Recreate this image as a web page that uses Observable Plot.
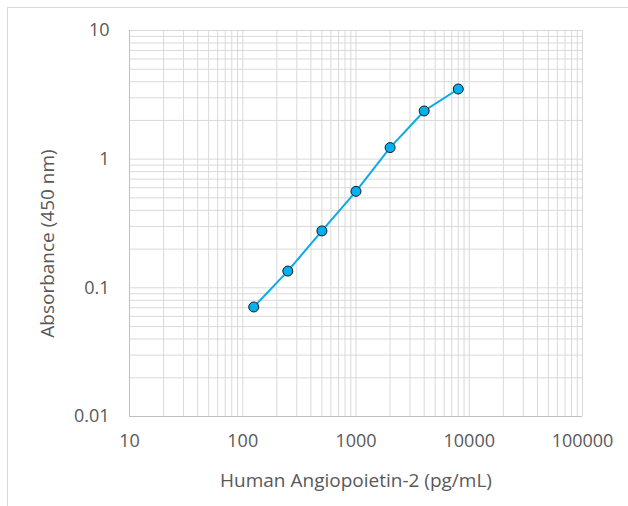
<!DOCTYPE html>
<html>
<head>
<meta charset="utf-8">
<script src="https://cdn.jsdelivr.net/npm/d3@7"></script>
<script src="https://cdn.jsdelivr.net/npm/@observablehq/plot@0.6"></script>
<style>
  html, body { margin: 0; padding: 0; background: #fff; }
  #wrap { position: relative; width: 628px; height: 506px; overflow: hidden; }
  #border { position: absolute; left: 7px; top: 7px; width: 640px; height: 520px; border: 1px solid #d9d9d9; box-sizing: border-box; }
  #chart { position: absolute; left: 0; top: 0; }
</style>
</head>
<body>
<div id="wrap"><div id="border"></div><div id="chart"></div></div>
<script>
const concentration = [125, 250, 500, 1000, 2000, 4000, 8000];
const absorbance = [0.071, 0.135, 0.277, 0.562, 1.23, 2.37, 3.51];
const xTicks = [10, 100, 1000, 10000, 100000];
const yTicks = [0.01, 0.1, 1, 10];
const xTitle = "Human Angiopoietin-2 (pg/mL)";
const yTitle = "Absorbance (450 nm)";

const data = concentration.map((c, i) => ({c, a: absorbance[i]}));
const minor = (ticks) => {
  const out = [];
  for (let i = 0; i < ticks.length; i++) {
    out.push(ticks[i]);
    if (i < ticks.length - 1) for (let k = 2; k <= 9; k++) out.push(ticks[i] * k);
  }
  return out;
};
const xGrid = minor(xTicks);
const yGrid = minor(yTicks);
const fmt = d => String(d);
const textColor = "#595959";

const plot = Plot.plot({
  width: 628,
  height: 506,
  marginLeft: 129,
  marginRight: 46,
  marginTop: 30,
  marginBottom: 90,
  style: {fontFamily: "'Open Sans', sans-serif", fontSize: "18px", color: textColor, background: "transparent"},
  x: {type: "log", domain: [10, 100000]},
  y: {type: "log", domain: [0.01, 10]},
  marks: [
    Plot.gridX(xGrid, {stroke: "#d9d9d9", strokeOpacity: 1, strokeWidth: 1}),
    Plot.gridY(yGrid, {stroke: "#d9d9d9", strokeOpacity: 1, strokeWidth: 1}),
    Plot.ruleX([10], {stroke: "#bfbfbf"}),
    Plot.ruleY([0.01], {stroke: "#bfbfbf"}),
    Plot.axisX(xTicks, {tickSize: 0, tickPadding: 18, tickFormat: fmt, fill: textColor, fontSize: 18, label: null}),
    Plot.axisY(yTicks, {tickSize: 0, tickPadding: 20, tickFormat: fmt, fill: textColor, fontSize: 18, label: null}),
    Plot.text([xTitle], {frameAnchor: "bottom", lineAnchor: "middle", dy: 64, fill: textColor, fontSize: 19}),
    Plot.text([yTitle], {frameAnchor: "left", textAnchor: "middle", lineAnchor: "middle", rotate: -90, dx: -82, dy: 20, fill: textColor, fontSize: 19}),
    Plot.line(data, {x: "c", y: "a", stroke: "#0fa9e6", strokeWidth: 2}),
    Plot.dot(data, {x: "c", y: "a", r: 5, fill: "#00b0f0", stroke: "#1a1a1a", strokeWidth: 1, fillOpacity: 1})
  ]
});
document.getElementById("chart").appendChild(plot);
</script>
</body>
</html>
